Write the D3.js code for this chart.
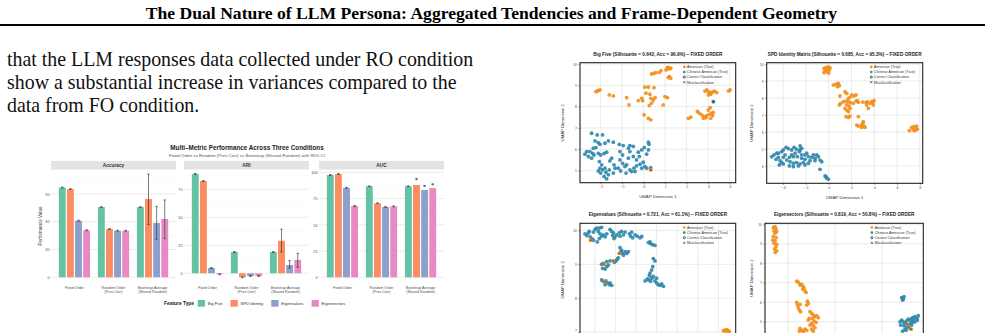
<!DOCTYPE html>
<html>
<head>
<meta charset="utf-8">
<script src="https://cdn.jsdelivr.net/npm/d3@7"></script>
<style>
  body { margin: 0; background: #fff; }
  svg { display: block; }
</style>
</head>
<body>
<script>
var W = 985, H = 333;

// ---- page text ----
var headerTitle = "The Dual Nature of LLM Persona: Aggregated Tendencies and Frame-Dependent Geometry";
var bodyLines = [
  "that the LLM responses data collected under RO condition",
  "show a substantial increase in variances compared to the",
  "data from FO condition."
];

// ---- bar chart data ----
var barTitle = "Multi\u2013Metric Performance Across Three Conditions";
var barSubtitle = "Fixed Order vs Random (Pres Corr) vs Bootstrap (Shared Random) with 95% CI";
var conditions = ["Fixed Order", "Random Order\n(Pres Corr)", "Bootstrap Average\n(Shared Random)"];
var features = ["Big Five", "SPD Identity", "Eigenvalues", "Eigenvectors"];
var metrics = ["Accuracy", "ARI", "AUC"];

// rows = condition, columns = feature
var accMean = [[96.9, 95.3, 61.1, 50.8], [75.9, 52.2, 50.3, 50.3], [75.9, 84.5, 58.6, 63.0]];
var accLow  = [[96.5, 94.9, 60.6, 50.3], [75.6, 51.8, 49.9, 49.9], [75.6, 57.0, 41.0, 41.7]];
var accHigh = [[97.3, 95.7, 61.6, 51.3], [76.2, 52.6, 50.7, 50.7], [76.2, 111.5, 76.6, 83.5]];

var ariMean = [[88.7, 82.4, 4.7, -0.9], [19.0, -3.6, -2.5, -2.5], [19.0, 29.0, 7.4, 11.9]];
var ariLow  = [[88.3, 82.0, 4.3, -1.3], [18.6, -4.0, -2.9, -2.9], [18.6, 19.0, 4.7, 5.3]];
var ariHigh = [[89.1, 82.8, 5.1, -0.5], [19.4, -3.2, -2.1, -2.1], [19.4, 39.3, 11.3, 17.8]];

var aucMean = [[97.4, 98.4, 85.3, 67.9], [86.7, 70.5, 67.0, 67.6], [86.7, 87.9, 83.2, 85.0]];
var aucLow  = [[97.0, 98.0, 84.9, 67.4], [86.4, 70.1, 66.6, 67.2], [86.4, 93.0, 86.6, 88.2]];
var aucHigh = [[97.8, 98.8, 85.7, 68.4], [87.0, 70.9, 67.4, 68.0], [87.0, 94.2, 87.4, 89.0]];

var accTicks = [0, 30, 60, 90], accMinor = [15, 45, 75, 105];
var ariTicks = [0, 25, 50, 75], ariMinor = [12.5, 37.5, 62.5, 87.5];
var aucTicks = [0, 25, 50, 75, 100], aucMinor = [12.5, 37.5, 62.5, 87.5];

var featureColors = ["#66c2a5", "#fc8d62", "#8da0cb", "#e78ac3"];

// ---- UMAP scatter data ----
var classNames = ["American (True)", "Chinese American (True)"];
var classColors = ["#F28E1C", "#2E86AB"];

var bigFiveAmerican = [
  [1.10,9.83],[1.19,9.77],[1.26,9.80],[1.04,9.72],[1.15,9.84],[0.81,9.69],[0.73,9.61],[0.48,9.56],[0.37,9.53],[0.57,9.59],
  [1.19,9.41],[1.26,9.33],[1.15,9.36],[-2.22,8.70],[-2.11,8.75],[-2.03,8.78],[-2.16,8.73],[-1.60,8.55],[-1.41,8.50],[-0.79,8.42],
  [-0.68,8.08],[-0.25,8.28],[-0.09,8.39],[0.06,8.91],[0.22,8.92],[0.48,8.89],[0.11,8.63],[0.29,8.58],[0.34,8.39],[0.45,8.31],
  [0.53,8.42],[0.37,8.16],[0.26,8.05],[-0.05,8.28],[0.02,7.61],[0.22,7.45],[0.33,7.38],[0.99,8.47],[1.10,8.42],[0.91,8.08],
  [2.85,8.73],[3.01,8.70],[3.09,8.63],[3.16,8.67],[3.24,8.70],[3.40,8.66],[3.01,8.55],[3.12,8.58],[3.94,8.73],[4.02,8.78],
  [2.93,8.78],[3.30,8.72],[2.50,7.77],[2.59,7.69],[2.70,7.61],[2.81,7.53],[2.93,7.58],[3.05,7.64],[3.16,7.69],[3.21,7.58],
  [3.01,7.84],[3.09,7.95],[2.78,7.45],[2.90,7.48],[3.12,7.45],[3.24,7.73],[2.08,7.45],[2.19,7.50]
];
var bigFiveChinese = [
  [-2.42,6.75],[-2.16,6.67],[-1.91,6.67],[-2.26,6.39],[-2.11,6.31],[-2.03,6.23],[-1.80,6.28],[-1.64,6.39],[-1.41,6.33],[-1.13,6.23],
  [-0.95,6.17],[-0.64,6.17],[-0.48,6.13],[-0.71,6.05],[-2.34,6.05],[-2.22,6.08],[-2.65,5.89],[-2.73,5.77],[-2.57,5.66],[-2.42,5.58],
  [-2.31,5.73],[-2.11,5.81],[-2.00,5.73],[-1.84,5.80],[-1.72,5.86],[-2.06,5.42],[-1.95,5.27],[-1.80,5.11],[-1.91,5.03],[-1.75,4.92],
  [-1.64,4.80],[-1.84,4.72],[-1.72,4.61],[-1.41,4.88],[-1.10,5.50],[-0.98,5.34],[-0.87,5.19],[-0.79,5.27],[-1.18,5.11],[-1.07,4.98],
  [-0.82,4.88],[-0.64,5.03],[-0.56,4.95],[-0.45,5.11],[-0.33,5.22],[-0.17,5.30],[-0.02,5.39],[0.14,5.77],[0.22,5.97],[0.25,6.23],
  [0.22,6.33],[0.03,6.08],[-0.09,5.97],[-0.25,5.86],[-0.48,5.66],[-0.64,5.89],[-0.71,5.58],[-0.33,5.50],[-0.20,5.66],[-0.09,5.11],
  [0.14,5.11],[0.33,5.14],[-1.57,5.45],[-1.49,5.58],[-1.38,5.27],[-2.50,5.89],[-2.37,5.81],[-1.10,5.89],[-0.98,5.73],[-1.60,5.03],
  [-1.33,5.11],[-2.03,5.11],[-2.11,4.98],[-2.00,4.88],[-0.40,4.95],[0.06,5.19]
];
var bigFiveMissed = [[3.24,8.23,1],[0.33,5.03,0]];

var spdAmerican = [
  [-0.41,9.75],[-0.23,9.80],[-0.03,9.84],[0.12,9.78],[-0.32,9.61],[-0.12,9.55],[0.06,9.65],[-0.18,9.69],[-0.41,9.49],[0.00,9.47],
  [0.41,8.76],[0.64,8.82],[0.85,8.86],[0.94,8.73],[0.76,8.67],[0.99,8.12],[1.43,8.37],[1.58,8.27],[1.73,7.98],[1.87,8.04],
  [2.02,8.18],[2.22,8.12],[2.40,8.18],[2.51,7.84],[2.60,7.75],[2.16,7.69],[1.93,7.73],[1.73,7.78],[1.52,7.82],[1.29,7.78],
  [1.05,7.69],[0.94,7.59],[1.58,7.59],[1.78,7.53],[1.43,7.39],[1.58,7.29],[1.87,7.39],[1.73,7.20],[1.52,6.90],[1.73,6.86],
  [1.87,6.94],[2.40,7.82],[2.60,6.90],[2.98,7.76],[3.27,7.73],[3.39,7.78],[3.63,7.69],[3.77,7.78],[3.86,7.73],[3.98,7.84],
  [3.92,7.59],[3.33,7.59],[3.48,7.39],[3.04,6.61],[2.98,6.51],[2.89,6.41],[3.10,6.35],[3.19,6.27],[2.89,6.27],[2.46,6.41],
  [2.60,6.35],[7.28,6.27],[7.49,6.31],[7.66,6.22],[7.78,6.16],[7.43,6.12],[7.57,6.08],[7.08,6.08],[7.72,6.35]
];
var spdChinese = [
  [-5.00,4.55],[-4.80,4.65],[-4.56,4.75],[-4.42,4.51],[-4.62,4.39],[-4.27,4.31],[-4.12,4.20],[-4.33,4.06],[-3.98,4.94],[-3.74,5.10],
  [-3.54,5.02],[-3.25,4.94],[-3.04,5.10],[-2.81,4.98],[-2.51,5.18],[-2.37,5.04],[-2.57,4.84],[-2.95,4.75],[-3.25,4.65],[-3.45,4.51],
  [-3.83,4.65],[-3.68,4.35],[-3.39,4.25],[-3.10,4.16],[-2.81,4.20],[-2.51,4.12],[-2.22,4.20],[-2.37,4.45],[-2.08,4.65],[-1.93,4.75],
  [-1.78,4.55],[-1.49,4.51],[-1.35,4.65],[-1.20,4.45],[-1.05,4.65],[-0.91,4.55],[-0.76,4.35],[-0.61,4.25],[-1.64,4.31],[-1.78,4.16],
  [-2.08,4.06],[-2.66,4.00],[-3.10,3.96],[-3.45,4.00],[-3.98,4.12],[-4.42,4.75],[-4.12,4.84],[-3.10,4.55],[-2.75,4.55],[-2.37,4.65],
  [-2.08,4.39],[-1.20,4.31],[-0.76,3.80],[-0.32,3.41],[-0.18,3.29],[-0.03,3.22],[-0.23,3.37],[-2.51,4.94],[-3.98,4.51]
];
var spdMissed = [];

var eigvalAmerican = [
  [4.24,7.04],[4.32,7.06],[4.40,7.07],[4.48,7.04],[4.53,7.02],[4.37,7.01]
];
var eigvalChinese = [
  [-2.48,9.90],[-2.39,9.85],[-2.31,9.93],[-2.23,9.81],[-2.15,9.76],[-2.07,9.71],[-2.27,9.97],[-2.07,9.95],[-1.99,10.03],[-1.91,10.07],
  [-1.78,10.07],[-1.67,10.09],[-1.83,9.97],[-1.75,9.90],[-1.67,9.83],[-1.78,9.76],[-1.88,9.66],[-1.59,9.87],[-1.50,9.81],[-1.42,9.90],
  [-1.26,10.03],[-1.18,9.97],[-1.13,9.85],[-1.07,9.76],[-1.02,9.81],[-1.10,9.93],[-0.94,9.87],[-0.81,9.93],[-0.70,9.97],[-0.78,9.83],
  [-0.61,9.87],[-0.53,9.95],[-0.32,9.90],[-0.26,9.83],[-0.16,9.78],[-0.21,9.95],[-0.05,9.87],[0.06,9.83],[0.19,9.78],[0.28,9.82],
  [0.60,9.64],[0.71,9.61],[0.81,9.58],[0.92,9.56],[0.68,9.66],[-0.78,9.49],[-0.70,9.42],[-0.74,9.37],[-0.65,9.32],[-0.53,9.37],
  [-0.45,9.32],[-0.37,9.37],[-0.61,9.27],[-0.86,9.19],[-0.91,9.15],[-0.97,9.10],[-1.05,9.06],[-1.26,9.10],[-1.42,9.08],[-1.59,9.03],
  [-1.67,9.00],[-1.42,8.93],[-1.34,8.98],[-1.62,8.88],[-1.50,8.86],[-1.67,8.54],[-1.59,8.50],[-1.46,8.51],[-1.39,8.45],[-1.29,8.40],
  [-1.18,8.38],[-1.50,8.40],[-1.26,8.45],[0.84,9.17],[0.92,9.10],[0.81,8.93],[0.76,8.83],[0.68,8.74],[0.65,8.67],[0.55,8.57],
  [0.44,8.51],[0.60,8.54],[0.76,8.59],[0.92,8.51],[1.00,8.45],[1.08,8.40],[1.17,8.38],[1.33,8.35],[1.25,8.42],[0.84,8.64],
  [1.00,8.59],[0.71,8.50]
];
var eigvalMissed = [[-2.20,9.71,0],[-0.81,9.32,0],[-1.10,9.10,0],[-1.50,8.48,0],[-1.55,9.00,0]];

var eigvecAmerican = [
  [-6.54,9.83],[-6.36,9.88],[-6.25,9.76],[-6.47,9.66],[-6.18,9.62],[-6.36,9.54],[-6.54,9.37],[-6.25,9.31],[-6.61,9.19],[-6.36,9.14],
  [-6.47,9.02],[-6.18,8.97],[-6.25,8.85],[-6.40,8.73],[-6.18,8.63],[-6.33,8.56],[-4.06,7.08],[-3.89,7.02],[-3.53,6.91],[-3.36,6.79],
  [-3.29,6.71],[-3.18,6.57],[-3.07,6.50],[-3.71,6.88],[-3.43,6.67],[-4.06,5.99],[-3.99,5.85],[-3.89,5.71],[-3.78,5.59],[-3.64,5.51],
  [-3.71,5.88],[-2.93,6.05],[-2.83,5.93],[-3.00,5.85],[-2.65,5.51],[-2.47,5.42],[-2.30,5.33],[-2.12,5.25],[-1.94,5.30],[-1.77,5.20],
  [-2.37,5.16],[-2.23,5.03],[-2.01,4.96],[-2.47,4.91],[-2.65,4.82],[-2.30,4.79],[-2.12,4.68],[-2.72,5.16],[-2.83,5.08],[-3.71,4.65],
  [-3.53,4.56],[-3.78,4.51],[-3.36,4.48],[-3.18,4.61],[-3.00,4.55],[-2.47,4.61],[-2.30,4.51]
];
var eigvecChinese = [
  [7.07,6.23],[7.24,6.16],[7.31,6.28],[7.17,6.11],[7.07,5.08],[7.24,4.99],[7.42,4.91],[7.60,5.03],[7.77,5.13],[7.95,5.08],
  [8.13,5.16],[8.30,5.20],[8.48,5.25],[8.66,5.16],[8.73,5.08],[8.48,4.99],[8.23,4.96],[8.02,4.91],[7.77,4.82],[7.60,4.73],
  [7.42,4.61],[7.17,4.51],[7.31,4.79],[7.53,4.56],[7.86,4.68],[8.13,4.82],[8.30,5.08],[8.83,5.30],[6.89,4.99],[6.96,4.82]
];
var eigvecMissed = [[7.67,4.86,0],[8.06,4.61,0]];

var scatterTitles = [
  "Big Five (Silhouette = 0.642, Acc = 96.9%) \u2013 FIXED ORDER",
  "SPD Identity Matrix (Silhouette = 0.685, Acc = 95.3%) \u2013 FIXED ORDER",
  "Eigenvalues (Silhouette = 0.721, Acc = 61.1%) \u2013 FIXED ORDER",
  "Eigenvectors (Silhouette = 0.819, Acc = 50.8%) \u2013 FIXED ORDER"
];
var bigFiveXTicks = [-2, -1, 0, 1, 2, 3, 4], bigFiveYTicks = [5, 6, 7, 8, 9, 10];
var spdXTicks = [-4, -2, 0, 2, 4, 6, 8], spdYTicks = [4, 5, 6, 7, 8, 9, 10];
var eigvalXTicks = [-2, -1, 0, 1, 2, 3, 4], eigvalYTicks = [7, 8, 9, 10];
var eigvecXTicks = [-5, 0, 5], eigvecYTicks = [5, 6, 7, 8, 9, 10];

var svg = d3.select("body").append("svg")
    .attr("width", W).attr("height", H)
    .style("background", "#fff");

var serif = "'Liberation Serif', 'Times New Roman', serif";
var sans = "'Liberation Sans', Arial, Helvetica, sans-serif";

// header
svg.append("text")
    .attr("x", W / 2 - 1).attr("y", 19)
    .attr("text-anchor", "middle")
    .attr("font-family", serif).attr("font-weight", "bold").attr("font-size", 17.6)
    .text(headerTitle);
svg.append("rect").attr("x", 0).attr("y", 24).attr("width", W).attr("height", 2).attr("fill", "#000");

// body paragraph
svg.append("g").selectAll("text")
    .data(bodyLines)
    .join("text")
    .attr("x", 7)
    .attr("y", function (d, i) { return 66 + i * 23.2; })
    .attr("font-family", serif).attr("font-size", 19.9).attr("fill", "#111")
    .text(function (d) { return d; });

// ================= bar chart =================
var bar = svg.append("g").attr("font-family", sans);
bar.append("text").attr("x", 247).attr("y", 149.6).attr("text-anchor", "middle")
    .attr("font-weight", "bold").attr("font-size", 6.3).attr("fill", "#1a1a1a").text(barTitle);
bar.append("text").attr("x", 247).attr("y", 156.6).attr("text-anchor", "middle")
    .attr("font-size", 4.4).attr("fill", "#555").text(barSubtitle);

bar.append("text")
    .attr("transform", "translate(41.5,226) rotate(-90)")
    .attr("text-anchor", "middle").attr("font-size", 4.6).attr("fill", "#333")
    .text("Performance Value");

var panelLeft = [51, 184, 319], panelWidth = 125;
var stripTop = 161, plotTop = 170, plotBottom = 282;
var yDomains = [[-5.1, 115.9], [-7.8, 92.2], [-4.5, 102.2]];
var means = [accMean, ariMean, aucMean], lows = [accLow, ariLow, aucLow], highs = [accHigh, ariHigh, aucHigh];
var majors = [accTicks, ariTicks, aucTicks], minors = [accMinor, ariMinor, aucMinor];

metrics.forEach(function (metric, m) {
    var left = panelLeft[m];
    var g = bar.append("g");
    var y = d3.scaleLinear().domain(yDomains[m]).range([plotBottom, plotTop]);
    var x0 = d3.scaleBand().domain(conditions).range([left, left + panelWidth])
        .paddingInner(0.2).paddingOuter(0.2);
    var x1 = d3.scaleBand().domain(features).range([0, x0.bandwidth()]).paddingInner(0.15);

    g.selectAll("line.minor").data(minors[m]).join("line")
        .attr("x1", left).attr("x2", left + panelWidth)
        .attr("y1", function (d) { return y(d); }).attr("y2", function (d) { return y(d); })
        .attr("stroke", "#f2f2f2").attr("stroke-width", 0.5);
    g.selectAll("line.major").data(majors[m]).join("line")
        .attr("x1", left).attr("x2", left + panelWidth)
        .attr("y1", function (d) { return y(d); }).attr("y2", function (d) { return y(d); })
        .attr("stroke", "#e3e3e3").attr("stroke-width", 0.7);

    // strip
    g.append("rect").attr("x", left).attr("y", stripTop).attr("width", panelWidth).attr("height", plotTop - stripTop - 0.5)
        .attr("fill", "#e3e3e3");
    g.append("text").attr("x", left + panelWidth / 2).attr("y", stripTop + 6.1).attr("text-anchor", "middle")
        .attr("font-size", 4.8).attr("font-weight", "bold").attr("fill", "#333").text(metric);

    var rows = [];
    conditions.forEach(function (c, ci) {
        features.forEach(function (f, fi) {
            rows.push({ cond: c, feat: f, fi: fi, v: means[m][ci][fi], lo: lows[m][ci][fi], hi: highs[m][ci][fi] });
        });
    });

    g.selectAll("rect.bar").data(rows).join("rect")
        .attr("x", function (d) { return x0(d.cond) + x1(d.feat); })
        .attr("width", x1.bandwidth())
        .attr("y", function (d) { return y(Math.max(0, d.v)); })
        .attr("height", function (d) { return Math.abs(y(d.v) - y(0)); })
        .attr("fill", function (d) { return featureColors[d.fi]; });

    var eb = g.selectAll("g.eb").data(rows).join("g")
        .attr("transform", function (d) { return "translate(" + (x0(d.cond) + x1(d.feat) + x1.bandwidth() / 2) + ",0)"; })
        .attr("stroke", "#3a3a3a").attr("stroke-opacity", 0.85).attr("stroke-width", 0.8);
    eb.append("line").attr("x1", 0).attr("x2", 0)
        .attr("y1", function (d) { return y(d.lo); }).attr("y2", function (d) { return y(d.hi); });
    eb.append("line").attr("x1", -1.2).attr("x2", 1.2)
        .attr("y1", function (d) { return y(d.lo); }).attr("y2", function (d) { return y(d.lo); });
    eb.append("line").attr("x1", -1.2).attr("x2", 1.2)
        .attr("y1", function (d) { return y(d.hi); }).attr("y2", function (d) { return y(d.hi); });

    var ax = g.append("g").attr("transform", "translate(" + (left - 1.5) + ",0)")
        .call(d3.axisLeft(y).tickValues(majors[m]).tickSize(0).tickPadding(0));
    ax.select(".domain").remove();
    ax.selectAll("text").attr("font-size", 3.8).attr("fill", "#4d4d4d").attr("font-family", sans);

    // category labels (two lines)
    conditions.forEach(function (c) {
        var t = g.append("text").attr("text-anchor", "middle").attr("font-size", 3.6).attr("fill", "#4d4d4d");
        c.split("\n").forEach(function (line, li) {
            t.append("tspan").attr("x", x0(c) + x0.bandwidth() / 2).attr("y", 288.5 + li * 4).text(line);
        });
    });
});

// legend
var legend = bar.append("g");
legend.append("text").attr("x", 164).attr("y", 305.2).attr("font-size", 4.9).attr("font-weight", "bold")
    .attr("fill", "#222").text("Feature Type");
var lx = 197.7;
features.forEach(function (f, i) {
    legend.append("rect").attr("x", lx).attr("y", 300).attr("width", 7.3).attr("height", 6.7)
        .attr("fill", featureColors[i]);
    var t = legend.append("text").attr("x", lx + 10).attr("y", 304.8).attr("font-size", 4.1)
        .attr("fill", "#333").text(f);
    lx += 10 + t.node().getComputedTextLength() + 8;
});

// ================= UMAP scatter panels =================
var scatterPanels = [
    { title: scatterTitles[0], am: bigFiveAmerican, ch: bigFiveChinese, mis: bigFiveMissed,
      box: [580, 735.7, 62.7, 182.7], xd: [-2.96, 4.28], yd: [4.43, 10.06], xt: bigFiveXTicks, yt: bigFiveYTicks, titleY: 55.6, yTitleX: 564 },
    { title: scatterTitles[1], am: spdAmerican, ch: spdChinese, mis: spdMissed,
      box: [766.7, 922.7, 62.7, 183.3], xd: [-5.44, 8.25], yd: [2.98, 10.08], xt: spdXTicks, yt: spdYTicks, titleY: 55.6, yTitleX: 752.5 },
    { title: scatterTitles[2], am: eigvalAmerican, ch: eigvalChinese, mis: eigvalMissed,
      box: [580, 735.7, 223.3, 346.3], xd: [-2.72, 4.84], yd: [6.58, 10.21], xt: eigvalXTicks, yt: eigvalYTicks, titleY: 215.8, yTitleX: 564 },
    { title: scatterTitles[3], am: eigvecAmerican, ch: eigvecChinese, mis: eigvecMissed,
      box: [765, 923.3, 223.3, 343], xd: [-7.42, 9.36], yd: [3.9, 10.05], xt: eigvecXTicks, yt: eigvecYTicks, titleY: 215.8, yTitleX: 752.5 }
];

scatterPanels.forEach(function (p) {
    var g = svg.append("g").attr("font-family", sans);
    var x = d3.scaleLinear().domain(p.xd).range([p.box[0], p.box[1]]);
    var y = d3.scaleLinear().domain(p.yd).range([p.box[3], p.box[2]]);
    var cx = (p.box[0] + p.box[1]) / 2;
    var visibleBottom = p.box[3] < H;

    g.append("text").attr("x", cx).attr("y", p.titleY).attr("text-anchor", "middle")
        .attr("font-size", 4.7).attr("font-weight", "bold").attr("fill", "#222").text(p.title);

    var clipId = "clip" + Math.round(p.box[0]) + "_" + Math.round(p.box[2]);
    g.append("clipPath").attr("id", clipId).append("rect")
        .attr("x", p.box[0]).attr("y", p.box[2]).attr("width", p.box[1] - p.box[0]).attr("height", p.box[3] - p.box[2]);

    g.append("rect").attr("x", p.box[0]).attr("y", p.box[2]).attr("width", p.box[1] - p.box[0])
        .attr("height", p.box[3] - p.box[2]).attr("fill", "#fff");

    g.selectAll("line.gx").data(p.xt).join("line")
        .attr("x1", function (d) { return x(d); }).attr("x2", function (d) { return x(d); })
        .attr("y1", p.box[2]).attr("y2", p.box[3]).attr("stroke", "#dedede").attr("stroke-width", 0.6);
    g.selectAll("line.gy").data(p.yt).join("line")
        .attr("x1", p.box[0]).attr("x2", p.box[1])
        .attr("y1", function (d) { return y(d); }).attr("y2", function (d) { return y(d); })
        .attr("stroke", "#dedede").attr("stroke-width", 0.6);

    var pts = g.append("g").attr("clip-path", "url(#" + clipId + ")");
    pts.selectAll("circle.am").data(p.am).join("circle")
        .attr("cx", function (d) { return x(d[0]); }).attr("cy", function (d) { return y(d[1]); })
        .attr("r", 1.9).attr("fill", classColors[0]).attr("fill-opacity", 0.9);
    pts.selectAll("circle.ch").data(p.ch).join("circle")
        .attr("cx", function (d) { return x(d[0]); }).attr("cy", function (d) { return y(d[1]); })
        .attr("r", 1.9).attr("fill", classColors[1]).attr("fill-opacity", 0.9);
    var mis = pts.selectAll("g.mis").data(p.mis).join("g")
        .attr("transform", function (d) { return "translate(" + x(d[0]) + "," + y(d[1]) + ")"; });
    mis.append("circle").attr("r", 1.9).attr("fill", function (d) { return classColors[d[2]]; });
    mis.append("path").attr("d", "M-1,-1L1,1M-1,1L1,-1").attr("stroke", "#333").attr("stroke-width", 0.5);

    // frame
    g.append("rect").attr("x", p.box[0]).attr("y", p.box[2]).attr("width", p.box[1] - p.box[0])
        .attr("height", p.box[3] - p.box[2]).attr("fill", "none").attr("stroke", "#222").attr("stroke-width", 1.1);

    // bottom axis only where it lies inside the page
    if (visibleBottom) {
        var ax = g.append("g").attr("transform", "translate(0," + p.box[3] + ")")
            .call(d3.axisBottom(x).tickValues(p.xt).tickFormat(d3.format("d")).tickSize(1.6).tickPadding(1.5));
        ax.select(".domain").remove();
        ax.selectAll("line").attr("stroke", "#333").attr("stroke-width", 0.5);
        ax.selectAll("text").attr("font-size", 3.6).attr("fill", "#4d4d4d").attr("font-family", sans);
        g.append("text").attr("x", cx).attr("y", p.box[3] + 15.5).attr("text-anchor", "middle")
            .attr("font-size", 4.3).attr("fill", "#333").text("UMAP Dimension 1");
    }

    var ay = g.append("g").attr("transform", "translate(" + p.box[0] + ",0)")
        .call(d3.axisLeft(y).tickValues(p.yt).tickFormat(d3.format("d")).tickSize(1.6).tickPadding(1.5));
    ay.select(".domain").remove();
    ay.selectAll("line").attr("stroke", "#333").attr("stroke-width", 0.5);
    ay.selectAll("text").attr("font-size", 3.4).attr("fill", "#4d4d4d").attr("font-family", sans);
    // keep a label that sits on the page's lower edge fully inside it
    ay.selectAll("text").filter(function (d) { return y(d) > H - 3; }).attr("dy", "-0.15em");

    var yTitleY = visibleBottom ? (p.box[2] + p.box[3]) / 2 : (p.box[2] + p.box[3]) / 2 - 5;
    g.append("text").attr("transform", "translate(" + p.yTitleX + "," + yTitleY + ") rotate(-90)")
        .attr("text-anchor", "middle").attr("font-size", 4.3).attr("fill", "#333").text("UMAP Dimension 2");

    // in-panel legend
    var lg = g.append("g").attr("transform", "translate(" + (p.box[1] - 51.4) + "," + (p.box[2] + 4.2) + ")");
    var labels = [classNames[0], classNames[1], "Correct Classification", "Misclassification"];
    labels.forEach(function (lab, i) {
        var row = lg.append("g").attr("transform", "translate(0," + (i * 5.1) + ")");
        if (i < 2) {
            row.append("circle").attr("r", 1.3).attr("fill", classColors[i]);
        } else if (i === 2) {
            row.append("circle").attr("r", 1.1).attr("fill", "#fff").attr("stroke", "#111").attr("stroke-width", 0.7);
        } else {
            row.append("path").attr("d", "M-1,-1L1,1M-1,1L1,-1").attr("stroke", "#111").attr("stroke-width", 0.6);
        }
        row.append("text").attr("x", 2.8).attr("y", 1.3).attr("font-size", 3.7).attr("fill", "#333").text(lab);
    });
});
</script>
</body>
</html>
